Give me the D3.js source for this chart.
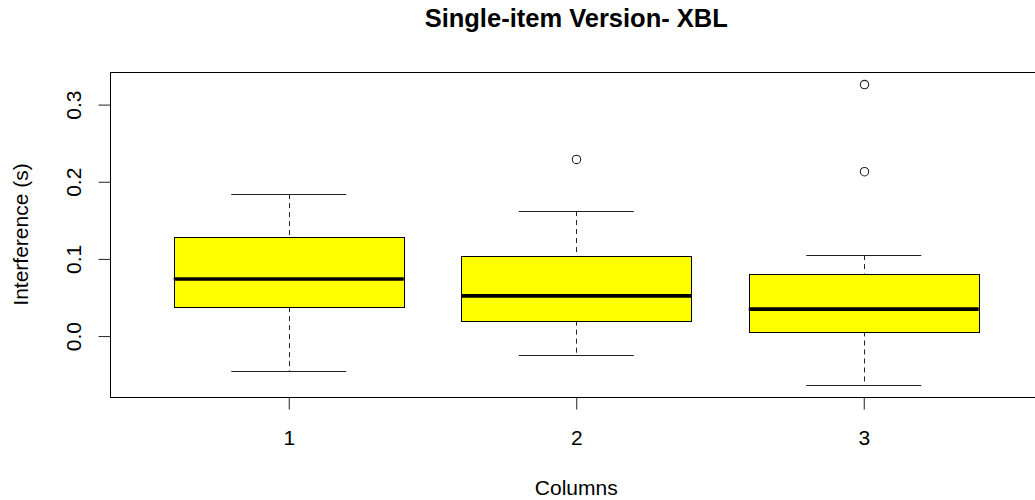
<!DOCTYPE html>
<html>
<head>
<meta charset="utf-8">
<script src="https://cdn.jsdelivr.net/npm/d3@7"></script>
<style>
  body { margin: 0; background: #fff; }
  text { font-family: "Liberation Sans", Arial, sans-serif; fill: #000; }
</style>
</head>
<body>
<svg></svg>
<script>
// Chart size
let width = 1035,
    height = 500;

// Box statistics (one entry per column)
let groups = ["1", "2", "3"];
let lowerWhisker = [-0.045, -0.024, -0.064];
let q1 = [0.0375, 0.020, 0.006];
let medians = [0.074, 0.052, 0.035];
let q3 = [0.128, 0.104, 0.081];
let upperWhisker = [0.184, 0.162, 0.105];
let outliers = [[], [0.229], [0.213, 0.326]];
let yTicks = [0.0, 0.1, 0.2, 0.3];

let svg = d3.select("svg")
    .attr("width", width)
    .attr("height", height);

// R style: x range 0.5..n+0.5, padded 4% on each side
let n = groups.length;
let xPad = 0.04 * n;
let x = d3.scaleLinear()
    .domain([0.5 - xPad, n + 0.5 + xPad])
    .range([110.5, 1042]);

let allVals = lowerWhisker.concat(upperWhisker, outliers.flat());
let yMin = d3.min(allVals), yMax = d3.max(allVals);
let yPad = (yMax - yMin) * 0.04;
let y = d3.scaleLinear()
    .domain([yMin - yPad, yMax + yPad])
    .range([397.5, 72.5]);

let boxHalf = (x(1.4) - x(1)),
    capHalf = boxHalf / 2;

// Plot frame (right side falls outside the window)
svg.append("rect")
    .attr("x", 110.5)
    .attr("y", 72.5)
    .attr("width", 940)
    .attr("height", 325)
    .style("fill", "none")
    .style("stroke", "#000")
    .style("stroke-width", "1px");

// One group per column
let box = svg.selectAll("g.box")
    .data(groups)
    .enter().append("g")
    .attr("class", "box");

// Dashed whiskers
box.append("line")
    .attr("x1", (d, i) => Math.round(x(i + 1)) + 0.5)
    .attr("x2", (d, i) => Math.round(x(i + 1)) + 0.5)
    .attr("y1", (d, i) => y(upperWhisker[i]))
    .attr("y2", (d, i) => y(q3[i]))
    .style("stroke", "#222")
    .style("stroke-dasharray", "5,4");

box.append("line")
    .attr("x1", (d, i) => Math.round(x(i + 1)) + 0.5)
    .attr("x2", (d, i) => Math.round(x(i + 1)) + 0.5)
    .attr("y1", (d, i) => y(q1[i]))
    .attr("y2", (d, i) => y(lowerWhisker[i]))
    .style("stroke", "#222")
    .style("stroke-dasharray", "5,4");

// Whisker caps
[upperWhisker, lowerWhisker].forEach(function(arr) {
    box.append("line")
        .attr("x1", (d, i) => x(i + 1) - capHalf)
        .attr("x2", (d, i) => x(i + 1) + capHalf)
        .attr("y1", (d, i) => Math.round(y(arr[i])) + 0.5)
        .attr("y2", (d, i) => Math.round(y(arr[i])) + 0.5)
        .style("stroke", "#222");
});

// Boxes
box.append("rect")
    .attr("x", (d, i) => Math.round(x(i + 1) - boxHalf) + 0.5)
    .attr("y", (d, i) => Math.round(y(q3[i])) + 0.5)
    .attr("width", 2 * boxHalf)
    .attr("height", (d, i) => Math.round(y(q1[i]) - y(q3[i])))
    .style("fill", "#ffff00")
    .style("stroke", "#000")
    .style("stroke-width", "1px");

// Medians
box.append("line")
    .attr("x1", (d, i) => x(i + 1) - boxHalf)
    .attr("x2", (d, i) => x(i + 1) + boxHalf)
    .attr("y1", (d, i) => y(medians[i]))
    .attr("y2", (d, i) => y(medians[i]))
    .style("stroke", "#000")
    .style("stroke-width", "3.7px");

// Outlier points
box.each(function(d, i) {
    d3.select(this).selectAll("circle")
        .data(outliers[i])
        .enter().append("circle")
        .attr("cx", Math.round(x(i + 1)) + 0.5)
        .attr("cy", v => y(v))
        .attr("r", 4.2)
        .style("fill", "none")
        .style("stroke", "#222")
        .style("stroke-width", "1.1px");
});

// Y axis, labels rotated like R's default las = 0
let yAxis = svg.append("g")
    .attr("transform", "translate(110.5,0)")
    .call(d3.axisLeft(y).tickValues(yTicks).tickSize(12).tickFormat(d3.format(".1f")));
yAxis.select(".domain").remove();
yAxis.selectAll(".tick line").style("stroke", "#222");
yAxis.selectAll(".tick text")
    .attr("x", 0).attr("y", 0).attr("dy", null)
    .attr("transform", "translate(-29.5,0) rotate(-90)")
    .attr("text-anchor", "middle")
    .style("font-size", "21px")
    .style("font-family", "Liberation Sans, Arial, sans-serif");

// X axis
let xAxis = svg.append("g")
    .attr("transform", "translate(0,397.5)")
    .call(d3.axisBottom(x).tickValues([1, 2, 3]).tickSize(12).tickFormat((d) => groups[d - 1]));
xAxis.select(".domain").remove();
xAxis.selectAll(".tick line").style("stroke", "#222");
xAxis.selectAll(".tick text")
    .attr("y", 47.5)
    .attr("dy", null)
    .style("font-size", "21px")
    .style("font-family", "Liberation Sans, Arial, sans-serif");

// Titles
svg.append("text")
    .attr("x", (x.range()[0] + x.range()[1]) / 2)
    .attr("y", 27)
    .attr("text-anchor", "middle")
    .style("font-size", "25.5px")
    .style("font-weight", "bold")
    .text("Single-item Version- XBL");

svg.append("text")
    .attr("x", (x.range()[0] + x.range()[1]) / 2)
    .attr("y", 495)
    .attr("text-anchor", "middle")
    .style("font-size", "21px")
    .text("Columns");

svg.append("text")
    .attr("transform", "translate(28," + ((72 + 397) / 2) + ") rotate(-90)")
    .attr("text-anchor", "middle")
    .style("font-size", "21px")
    .text("Interference (s)");
</script>
</body>
</html>
